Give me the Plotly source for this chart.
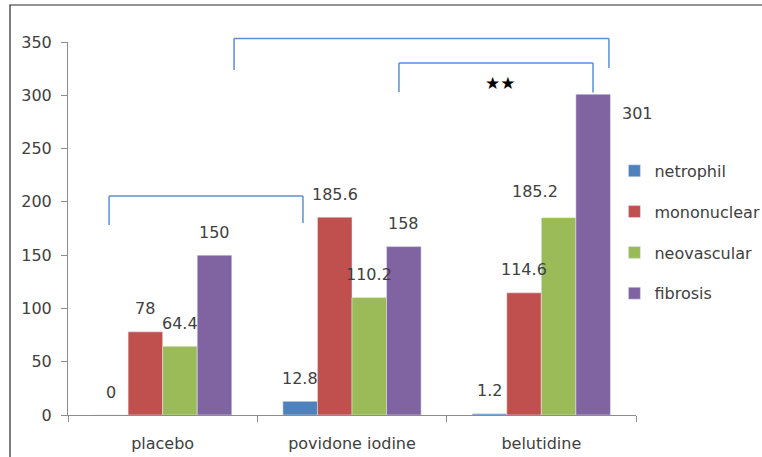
import plotly.graph_objects as go

categories = ["placebo", "povidone iodine", "belutidine"]
series_names = ["netrophil", "mononuclear", "neovascular", "fibrosis"]
netrophil = [0, 12.8, 1.2]
mononuclear = [78, 185.6, 114.6]
neovascular = [64.4, 110.2, 185.2]
fibrosis = [150, 158, 301]
y_ticks = [0, 50, 100, 150, 200, 250, 300, 350]

series_values = [netrophil, mononuclear, neovascular, fibrosis]
colors = ["#4F81BD", "#C0504D", "#9BBB59", "#8064A2"]

FONT = "DejaVu Sans"
TXT = "#404040"
AX = "#8c8c8c"
BRK = "#5b8fd6"
BARGAP = 0.27

fig = go.Figure()
for i, (name, vals) in enumerate(zip(series_names, series_values)):
    fig.add_trace(go.Bar(
        name=name, x=categories, y=vals, marker_color=colors[i],
        legendgroup=name, showlegend=True,
    ))

nudges = {(2, 2): (-24, 3), (2, 3): (44, -42)}
annotations = []
nser = len(series_names)
for i, vals in enumerate(series_values):
    for j, v in enumerate(vals):
        dx, dy = nudges.get((j, i), (0, 0))
        xpos = j + (i - (nser - 1) / 2) * (1 - BARGAP) / nser
        annotations.append(dict(
            x=xpos, y=v, xref="x", yref="y", text=str(v), showarrow=False,
            xanchor="center", yanchor="middle", xshift=dx, yshift=23 + dy,
            font=dict(family=FONT, size=16, color=TXT),
        ))
annotations.append(dict(
    x=1.783, y=311.5, xref="x", yref="y", text="★★", showarrow=False,
    font=dict(family=FONT, size=17, color="black"),
))

def line(x0, y0, x1, y1, yref="y"):
    return dict(type="line", xref="x", yref=yref, x0=x0, y0=y0, x1=x1, y1=y1,
                line=dict(color=BRK, width=1.5))

shapes = []
shapes += [line(-0.283, 178.3, -0.283, 205.5), line(-0.283, 205.5, 0.741, 205.5),
           line(0.741, 205.5, 0.741, 180.2)]
shapes += [line(1.248, 303.1, 1.248, 330.3), line(1.248, 330.3, 2.273, 330.3),
           line(2.273, 330.3, 2.273, 302.6)]
shapes += [line(0.377, 0.925, 0.377, 1.0094, "paper"), line(0.377, 1.0094, 2.357, 1.0094, "paper"),
           line(2.357, 1.0094, 2.357, 0.930, "paper")]
shapes.append(dict(type="rect", xref="paper", yref="paper", x0=-0.1021, y0=-0.4,
                   x1=1.4, y1=1.0992, line=dict(color="#262626", width=1.2), layer="below"))

fig.update_layout(
    width=762, height=457,
    margin=dict(l=68, r=126, t=42, b=42, autoexpand=False),
    paper_bgcolor="white", plot_bgcolor="white",
    barmode="group", bargap=BARGAP, bargroupgap=0,
    font=dict(family=FONT, size=16, color=TXT),
    annotations=annotations, shapes=shapes,
    legend=dict(x=0.962, xanchor="left", y=0.70, yanchor="top",
                tracegroupgap=17, font=dict(family=FONT, size=16, color=TXT),
                bgcolor="rgba(0,0,0,0)", itemclick=False),
    xaxis=dict(type="category", range=[-0.5, 2.5], showline=True, linecolor=AX, linewidth=1,
               ticks="outside", tickson="boundaries", ticklen=6, tickcolor=AX,
               showgrid=False, ticklabelstandoff=14),
    yaxis=dict(range=[0, 350], tickvals=y_ticks, showline=True, linecolor=AX,
               linewidth=1, ticks="outside", ticklen=6, tickcolor=AX,
               showgrid=False, zeroline=False, ticklabelstandoff=6),
)

fig.write_html("out.html", config={"displayModeBar": False},
               post_script="document.body.style.margin='0';")
